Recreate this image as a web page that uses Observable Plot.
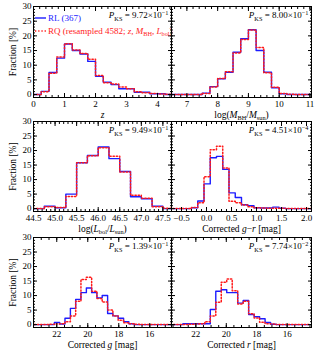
<!DOCTYPE html>
<html><head><meta charset="utf-8">
<script src="https://cdn.jsdelivr.net/npm/d3@7"></script>
<script src="https://cdn.jsdelivr.net/npm/@observablehq/plot@0.6"></script>
<style>
body{margin:0;background:#fff}
#fig{position:relative;width:324px;height:356px;overflow:hidden;background:#fff}
#fig svg{position:absolute;left:0;top:0;max-width:none}
</style></head><body><div id="fig"></div>
<script>
// ---------- data ----------
const yDomain = [-1, 30];
const yMajor = [0, 5, 10, 15, 20, 25, 30];

// redshift z
const zEdges = [0,0.25,0.5,0.75,1.0,1.25,1.5,1.75,2.0,2.25,2.5,2.75,3.0,3.25,3.5,3.75,4.0,4.25,4.5];
const zRL = [0,1.1,7.5,12.4,17.2,15.0,13.8,11.3,6.2,4.2,3.4,2.0,2.0,0.8,0.8,0.3,0.3,0];
const zRQ = [0,1.0,7.3,12.8,17.3,15.2,14.0,12.0,6.5,4.0,3.6,2.6,2.0,1.0,0.6,0.4,0.2,0.1];
const zTicks = [0,1,2,3,4];

// black hole mass
const mEdges = [6.5,6.75,7.0,7.25,7.5,7.75,8.0,8.25,8.5,8.75,9.0,9.25,9.5,9.75,10.0,10.25,10.5,10.75,11.0];
const mRL = [0,0,0,0,0.5,2.7,5.4,7.6,14.4,19.0,22.1,15.0,7.6,2.3,0.3,0,0,0];
const mRQ = [0,0,0,0,0.4,2.6,5.5,7.8,14.2,18.8,22.0,16.0,7.4,2.5,0.4,0.1,0,0];
const mTicks = [7,8,9,10,11];

// bolometric luminosity
const lEdges = [44.5,44.75,45.0,45.25,45.5,45.75,46.0,46.25,46.5,46.75,47.0,47.25,47.5,47.75];
const lRL = [0,0.8,0.3,5.0,15.8,18.3,21.2,17.2,12.8,4.1,3.4,0.8,0];
const lRQ = [0,0.6,0.4,4.2,15.8,18.2,21.0,18.0,12.6,4.6,3.6,0.6,0.1];
const lTicks = [44.5,45.0,45.5,46.0,46.5,47.0,47.5];

// g - r colour
const grEdges = [-0.675,-0.55,-0.425,-0.3,-0.175,-0.05,0.075,0.2,0.325,0.45,0.575,0.7,0.825,0.95,1.075,1.2,1.325,1.45,1.575,1.7,1.825,1.95,2.075,2.2];
const grRL = [0,0,0,0.3,2.6,8.5,17.5,18.0,13.5,5.4,3.8,1.3,1.0,0.3,0.2,0.2,0.5,0.1,0,0,0,0,0];
const grRQ = [0,0,0,0.4,2.0,11.0,20.3,21.5,14.0,2.5,2.0,1.2,0.6,0.3,0.2,0.1,0.1,0.1,0,0,0,0,0];
const grTicks = [-0.5,0.0,0.5,1.0,1.5,2.0];

// g magnitude
const gEdges = [14.61,14.95,15.29,15.64,15.98,16.32,16.66,17.01,17.35,17.69,18.04,18.38,18.72,19.07,19.41,19.75,20.09,20.44,20.78,21.12,21.47,21.81,22.15,22.49,22.84,23.18,23.52];
const gRL = [0,0,0,0,0,0,0,0.3,1.0,2.2,3.0,3.8,10.0,9.2,11.0,12.6,11.0,8.7,5.6,2.2,0.2,0.7,0,0,0,0];
const gRQ = [0,0,0,0,0,0,0.1,0.3,0.6,1.5,3.0,5.0,7.8,9.0,11.5,16.3,15.5,8.0,3.0,1.0,0.3,0.2,0.1,0,0,0];
const magTicks = [22,20,18,16];

// r magnitude
const rEdges = [14.57,14.93,15.29,15.65,16.01,16.37,16.73,17.09,17.45,17.81,18.17,18.53,18.89,19.25,19.61,19.97,20.33,20.69,21.05,21.41,21.77,22.13,22.49,22.85,23.21,23.57];
const rRL = [0,0,0,0,0,0,0.1,0.7,2.0,2.7,3.5,8.3,7.4,11.0,11.0,12.0,11.5,5.2,0.3,0.3,0.3,0.3,0.3,0,0];
const rRQ = [0,0,0,0,0,0,0.2,0.3,0.8,2.3,3.7,8.0,7.1,11.7,15.7,14.6,7.7,3.0,1.0,0.3,0.2,0.1,0,0,0];

const pks = ["9.72×10|−1","8.00×10|−1","9.49×10|−1","4.51×10|−4","1.39×10|−1","7.74×10|−2"];

// ---------- layout ----------
const W = 324, H = 356;
const cols = [{l: 33, r: 171}, {l: 171, r: 311}];
const rows = [{t: 6, b: 97}, {t: 121, b: 211}, {t: 237, b: 327}];
const FONT = "Liberation Serif";
const BLUE = "#1c1cff", RED = "#ff1a1a";

function steps(edges, vals) {
  return edges.map((e, i) => ({x: e, y: i < vals.length ? vals[i] : vals[vals.length - 1]}));
}
function minorTicks(domain, step) {
  const lo = Math.min(...domain), hi = Math.max(...domain);
  return d3.range(Math.ceil(lo / step - 1e-9), Math.floor(hi / step + 1e-9) + 1).map(k => +(k * step).toFixed(6));
}

const rich = {
  "z": [{t: "z", i: 1}],
  "logM": [{t: "log("}, {t: "M", i: 1}, {t: "BH", sub: 1}, {t: "/"}, {t: "M", i: 1}, {t: "sun", sub: 1}, {t: ")"}],
  "logL": [{t: "log("}, {t: "L", i: 1}, {t: "bol", sub: 1}, {t: "/"}, {t: "L", i: 1}, {t: "sun", sub: 1}, {t: ")"}],
  "gr": [{t: "Corrected "}, {t: "g", i: 1}, {t: "−"}, {t: "r", i: 1}, {t: " [mag]"}],
  "g": [{t: "Corrected "}, {t: "g", i: 1}, {t: " [mag]"}],
  "r": [{t: "Corrected "}, {t: "r", i: 1}, {t: " [mag]"}]
};

function setRich(el, segs) {
  const t = d3.select(el);
  t.text(null);
  let shift = 0;
  for (const s of segs) {
    const target = s.sub ? 2.3 : s.sup ? -3.6 : 0;
    const sp = t.append("tspan").text(s.t);
    if (target - shift !== 0) sp.attr("dy", target - shift);
    if (s.sub || s.sup) sp.attr("font-size", "6.3px");
    if (s.i) sp.attr("font-style", "italic");
    shift = target;
  }
}
function pksSegs(s) {
  const [a, b] = s.split("|");
  return [{t: "P", i: 1}, {t: "KS", sub: 1}, {t: " = " + a}, {t: b, sup: 1}];
}

const fig = document.getElementById("fig");

function panel({row, col, edges, rl, rq, xDomain, xTicks, xMinorStep, fmt, xLabel, p, legend}) {
  const R = rows[row], C = cols[col];
  const xMinor = minorTicks(xDomain, xMinorStep);
  const yMinor = minorTicks(yDomain, 1);
  const marks = [
    Plot.lineY(steps(edges, rl), {x: "x", y: "y", curve: "step-after", stroke: BLUE, strokeWidth: 1.4, clip: true}),
    Plot.lineY(steps(edges, rq), {x: "x", y: "y", curve: "step-after", stroke: RED, strokeWidth: 1.5, strokeDasharray: "1.3,1.9", clip: true}),
    Plot.frame({stroke: "black", strokeWidth: 1}),
    Plot.axisX({anchor: "bottom", ticks: xTicks, tickSize: -4, tickFormat: () => "", label: null}),
    Plot.axisX({anchor: "top", ticks: xTicks, tickSize: -4, tickFormat: () => "", label: null}),
    Plot.axisX({anchor: "bottom", ticks: xMinor, tickSize: -2, tickFormat: () => "", label: null}),
    Plot.axisX({anchor: "top", ticks: xMinor, tickSize: -2, tickFormat: () => "", label: null}),
    Plot.axisY({anchor: "left", ticks: yMajor, tickSize: -4, tickFormat: () => "", label: null}),
    Plot.axisY({anchor: "right", ticks: yMajor, tickSize: -4, tickFormat: () => "", label: null}),
    Plot.axisY({anchor: "left", ticks: yMinor, tickSize: -2, tickFormat: () => "", label: null}),
    Plot.axisY({anchor: "right", ticks: yMinor, tickSize: -2, tickFormat: () => "", label: null}),
    Plot.axisX({anchor: "bottom", ticks: xTicks, tickSize: 0, tickPadding: 3, tickFormat: fmt, label: null}),
    Plot.text([xLabel], {frameAnchor: "bottom", dy: 17, lineAnchor: "middle", textAnchor: "middle", text: d => d, fontSize: 9.5}),
    Plot.text([p], {frameAnchor: "top-right", dx: -3, dy: 9, lineAnchor: "middle", text: d => d, fontSize: 9})
  ];
  if (col === 0) {
    marks.push(Plot.axisY({anchor: "left", ticks: yMajor, tickSize: 0, tickPadding: 2, tickFormat: d3.format("d"), label: null}));
    marks.push(Plot.text(["Fraction [%]"], {frameAnchor: "left", dx: -21, rotate: -90, textAnchor: "middle", lineAnchor: "middle", text: d => d, fontSize: 9.5}));
  }
  const svg = Plot.plot({
    width: W, height: H,
    marginLeft: C.l, marginRight: W - C.r, marginTop: R.t, marginBottom: H - R.b,
    style: {fontFamily: FONT, fontSize: "9px", background: "none", color: "black", overflow: "visible"},
    x: {domain: xDomain},
    y: {domain: yDomain},
    marks
  });
  d3.select(svg).selectAll("text").each(function () {
    const s = this.textContent;
    if (rich[s]) setRich(this, rich[s]);
    else if (s.includes("|")) setRich(this, pksSegs(s));
  });
  if (legend) {
    const g = d3.select(svg).append("g").attr("font-family", FONT).attr("font-size", "9px").attr("text-anchor", "start");
    const x0 = C.l + 2, x1 = C.l + 13, tx = C.l + 15;
    g.append("line").attr("x1", x0).attr("x2", x1).attr("y1", R.t + 12).attr("y2", R.t + 12).attr("stroke", BLUE).attr("stroke-width", 1.4);
    g.append("line").attr("x1", x0).attr("x2", x1).attr("y1", R.t + 25).attr("y2", R.t + 25).attr("stroke", RED).attr("stroke-width", 1.5).attr("stroke-dasharray", "1.3,1.9");
    const t1 = g.append("text").attr("x", tx).attr("y", R.t + 12).attr("dy", "0.32em").attr("fill", BLUE);
    setRich(t1.node(), [{t: "RL (367)"}]);
    const t2 = g.append("text").attr("x", tx).attr("y", R.t + 25).attr("dy", "0.32em").attr("fill", RED);
    setRich(t2.node(), [{t: "RQ (resampled 4582; "}, {t: "z", i: 1}, {t: ", "}, {t: "M", i: 1}, {t: "BH", sub: 1}, {t: ", "}, {t: "L", i: 1}, {t: "bol", sub: 1}, {t: ")"}]);
  }
  fig.appendChild(svg);
}

const f1 = d3.format("d"), f2 = d3.format(".1f");
panel({row: 0, col: 0, edges: zEdges, rl: zRL, rq: zRQ, xDomain: [0, 4.45], xTicks: zTicks, xMinorStep: 0.2, fmt: f1, xLabel: "z", p: pks[0], legend: true});
panel({row: 0, col: 1, edges: mEdges, rl: mRL, rq: mRQ, xDomain: [6.5, 11.05], xTicks: mTicks, xMinorStep: 0.2, fmt: f1, xLabel: "logM", p: pks[1]});
panel({row: 1, col: 0, edges: lEdges, rl: lRL, rq: lRQ, xDomain: [44.5, 47.7], xTicks: lTicks, xMinorStep: 0.1, fmt: f2, xLabel: "logL", p: pks[2]});
panel({row: 1, col: 1, edges: grEdges, rl: grRL, rq: grRQ, xDomain: [-0.7, 2.1], xTicks: grTicks, xMinorStep: 0.1, fmt: f2, xLabel: "gr", p: pks[3]});
panel({row: 2, col: 0, edges: gEdges, rl: gRL, rq: gRQ, xDomain: [23.5, 14.6], xTicks: magTicks, xMinorStep: 0.5, fmt: f1, xLabel: "g", p: pks[4]});
panel({row: 2, col: 1, edges: rEdges, rl: rRL, rq: rRQ, xDomain: [23.6, 14.4], xTicks: magTicks, xMinorStep: 0.5, fmt: f1, xLabel: "r", p: pks[5]});
</script>
</body></html>
